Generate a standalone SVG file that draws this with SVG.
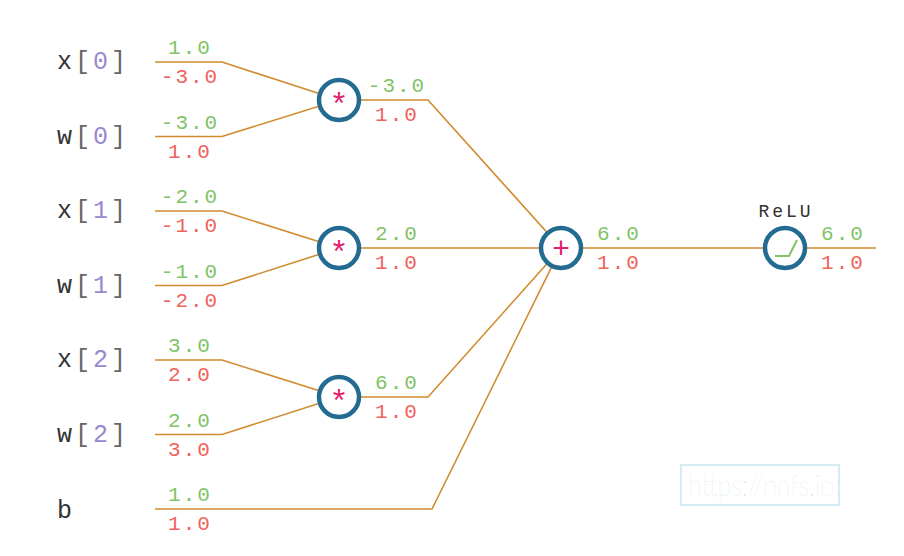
<svg xmlns="http://www.w3.org/2000/svg" width="904" height="556" viewBox="0 0 904 556">
<style>
.w{fill:none;stroke:#d18b2e;stroke-width:1.6}
.n{fill:#fff;stroke:#246b91;stroke-width:4.5}
.v{font-family:"Liberation Mono",monospace;font-size:21px;letter-spacing:2px;text-anchor:middle}
.g{fill:#7fc466}
.r{fill:#f0625c}
.lb{font-family:"Liberation Mono",monospace;font-size:25px;letter-spacing:3px;fill:#333}
.br{fill:#666}
.ix{fill:#9a87cf}
.op{font-family:"Liberation Sans",sans-serif;fill:#e3206f;text-anchor:middle}
</style>
<rect width="904" height="556" fill="#fff"/>
<g id="connectors">
<polyline class="w" points="155,62 222,62 339,100"/>
<polyline class="w" points="155,136.5 222,136.5 339,100"/>
<polyline class="w" points="155,211 222,211 339,248"/>
<polyline class="w" points="155,285.5 222,285.5 339,248"/>
<polyline class="w" points="155,360 222,360 339,397"/>
<polyline class="w" points="155,434.5 222,434.5 339,397"/>
<polyline class="w" points="339,100 428,100 561,248"/>
<polyline class="w" points="339,248 561,248"/>
<polyline class="w" points="339,397 428,397 561,248"/>
<polyline class="w" points="155,509 432,509 561,248"/>
<polyline class="w" points="561,248 876,248"/>
</g>
<g id="in-x0"><text class="lb" x="57" y="69">x<tspan class="br">[</tspan><tspan class="ix">0</tspan><tspan class="br">]</tspan></text><text class="v g" x="190" y="54">1.0</text><text class="v r" x="190" y="83">-3.0</text></g>
<g id="in-w0"><text class="lb" x="57" y="143.5">w<tspan class="br">[</tspan><tspan class="ix">0</tspan><tspan class="br">]</tspan></text><text class="v g" x="190" y="128.5">-3.0</text><text class="v r" x="190" y="157.5">1.0</text></g>
<g id="in-x1"><text class="lb" x="57" y="218">x<tspan class="br">[</tspan><tspan class="ix">1</tspan><tspan class="br">]</tspan></text><text class="v g" x="190" y="203">-2.0</text><text class="v r" x="190" y="232">-1.0</text></g>
<g id="in-w1"><text class="lb" x="57" y="292.5">w<tspan class="br">[</tspan><tspan class="ix">1</tspan><tspan class="br">]</tspan></text><text class="v g" x="190" y="277.5">-1.0</text><text class="v r" x="190" y="306.5">-2.0</text></g>
<g id="in-x2"><text class="lb" x="57" y="367">x<tspan class="br">[</tspan><tspan class="ix">2</tspan><tspan class="br">]</tspan></text><text class="v g" x="190" y="352">3.0</text><text class="v r" x="190" y="381">2.0</text></g>
<g id="in-w2"><text class="lb" x="57" y="441.5">w<tspan class="br">[</tspan><tspan class="ix">2</tspan><tspan class="br">]</tspan></text><text class="v g" x="190" y="426.5">2.0</text><text class="v r" x="190" y="455.5">3.0</text></g>
<g id="in-b"><text class="lb" x="57" y="518">b</text><text class="v g" x="190" y="501">1.0</text><text class="v r" x="190" y="530">1.0</text></g>
<g id="mul0"><circle class="n" cx="339" cy="100" r="20"/><text class="op" x="339" y="114" font-size="32">*</text><text class="v g" x="397" y="92">-3.0</text><text class="v r" x="397" y="121">1.0</text></g>
<g id="mul1"><circle class="n" cx="339" cy="248" r="20"/><text class="op" x="339" y="262" font-size="32">*</text><text class="v g" x="397" y="240">2.0</text><text class="v r" x="397" y="269">1.0</text></g>
<g id="mul2"><circle class="n" cx="339" cy="397" r="20"/><text class="op" x="339" y="411" font-size="32">*</text><text class="v g" x="397" y="389">6.0</text><text class="v r" x="397" y="418">1.0</text></g>
<g id="add"><circle class="n" cx="561" cy="248" r="20"/><text class="op" x="561" y="257.5" font-size="30">+</text><text class="v g" x="619" y="240">6.0</text><text class="v r" x="619" y="269">1.0</text></g>
<g id="relu"><circle class="n" cx="785" cy="248" r="20"/><polyline points="775,256 789,256 797,240" fill="none" stroke="#7fc466" stroke-width="2"/><text x="786" y="217" font-family="Liberation Mono,monospace" font-size="18" letter-spacing="3" fill="#333" text-anchor="middle">ReLU</text><text class="v g" x="843" y="240">6.0</text><text class="v r" x="843" y="269">1.0</text></g>
<g id="watermark"><rect x="681" y="465" width="158" height="40" fill="none" stroke="#d6ecf4" stroke-width="2"/><text x="688" y="496" font-family="Lato,sans-serif" font-weight="100" font-size="29" fill="#cfe7f1" textLength="146" lengthAdjust="spacingAndGlyphs">https://nnfs.io</text></g>
</svg>
